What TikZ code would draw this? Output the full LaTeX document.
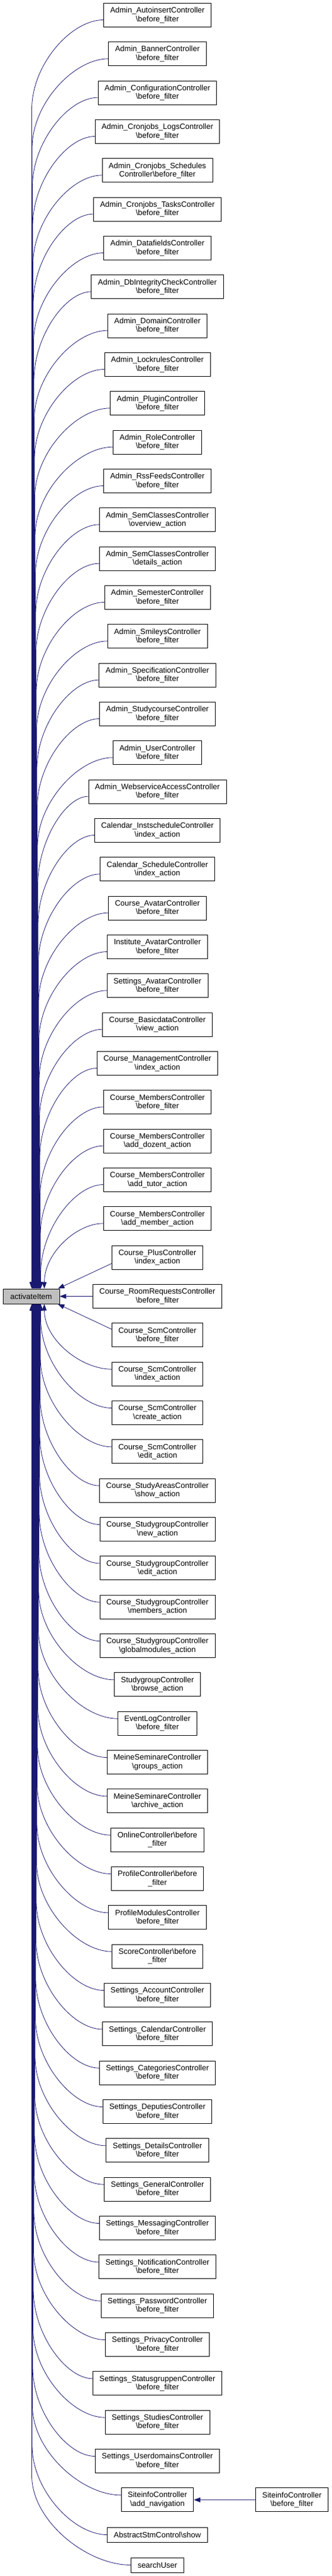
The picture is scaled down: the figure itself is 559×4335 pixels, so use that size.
\documentclass[tikz,border=0pt]{standalone}
\usepackage{fontspec}
\newfontfamily\lsans{Liberation Sans}
\usetikzlibrary{arrows.meta,calc}
\definecolor{mblue}{RGB}{25,25,112}
\definecolor{actgrey}{RGB}{191,191,191}
\newcommand\bsl{\textbackslash}
\newcommand\nf{\lsans\fontsize{13}{14.5}\selectfont}
\begin{document}
\begin{tikzpicture}[x=1pt,y=-1pt,
  fn/.style={draw=black,fill=white,line width=0.9pt,align=center,font=\nf,inner xsep=11pt,inner ysep=0pt,minimum height=40pt},
  fnone/.style={fn,minimum height=25pt},
  edge/.style={draw=mblue,line width=0.8pt,-{Triangle[length=11pt,width=8pt]}}]
\useasboundingbox (0,0) rectangle (559,4335);
\fill[white] (0,0) rectangle (559,4335);
\node[fnone,fill=actgrey,minimum width=95pt,inner xsep=0pt] (act) at (52.5,2181.5) {activateItem};
\foreach \t [count=\k] in {
 {Admin\_AutoinsertController\\\bsl before\_filter},
 {Admin\_BannerController\\\bsl before\_filter},
 {Admin\_ConfigurationController\\\bsl before\_filter},
 {Admin\_Cronjobs\_LogsController\\\bsl before\_filter},
 {Admin\_Cronjobs\_Schedules\\Controller\bsl before\_filter},
 {Admin\_Cronjobs\_TasksController\\\bsl before\_filter},
 {Admin\_DatafieldsController\\\bsl before\_filter},
 {Admin\_DbIntegrityCheckController\\\bsl before\_filter},
 {Admin\_DomainController\\\bsl before\_filter},
 {Admin\_LockrulesController\\\bsl before\_filter},
 {Admin\_PluginController\\\bsl before\_filter},
 {Admin\_RoleController\\\bsl before\_filter},
 {Admin\_RssFeedsController\\\bsl before\_filter},
 {Admin\_SemClassesController\\\bsl overview\_action},
 {Admin\_SemClassesController\\\bsl details\_action},
 {Admin\_SemesterController\\\bsl before\_filter},
 {Admin\_SmileysController\\\bsl before\_filter},
 {Admin\_SpecificationController\\\bsl before\_filter},
 {Admin\_StudycourseController\\\bsl before\_filter},
 {Admin\_UserController\\\bsl before\_filter},
 {Admin\_WebserviceAccessController\\\bsl before\_filter},
 {Calendar\_InstscheduleController\\\bsl index\_action},
 {Calendar\_ScheduleController\\\bsl index\_action},
 {Course\_AvatarController\\\bsl before\_filter},
 {Institute\_AvatarController\\\bsl before\_filter},
 {Settings\_AvatarController\\\bsl before\_filter},
 {Course\_BasicdataController\\\bsl view\_action},
 {Course\_ManagementController\\\bsl index\_action},
 {Course\_MembersController\\\bsl before\_filter},
 {Course\_MembersController\\\bsl add\_dozent\_action},
 {Course\_MembersController\\\bsl add\_tutor\_action},
 {Course\_MembersController\\\bsl add\_member\_action},
 {Course\_PlusController\\\bsl index\_action},
 {Course\_RoomRequestsController\\\bsl before\_filter},
 {Course\_ScmController\\\bsl before\_filter},
 {Course\_ScmController\\\bsl index\_action},
 {Course\_ScmController\\\bsl create\_action},
 {Course\_ScmController\\\bsl edit\_action},
 {Course\_StudyAreasController\\\bsl show\_action},
 {Course\_StudygroupController\\\bsl new\_action},
 {Course\_StudygroupController\\\bsl edit\_action},
 {Course\_StudygroupController\\\bsl members\_action},
 {Course\_StudygroupController\\\bsl globalmodules\_action},
 {StudygroupController\\\bsl browse\_action},
 {EventLogController\\\bsl before\_filter},
 {MeineSeminareController\\\bsl groups\_action},
 {MeineSeminareController\\\bsl archive\_action},
 {OnlineController\bsl before\\\_filter},
 {ProfileController\bsl before\\\_filter},
 {ProfileModulesController\\\bsl before\_filter},
 {ScoreController\bsl before\\\_filter},
 {Settings\_AccountController\\\bsl before\_filter},
 {Settings\_CalendarController\\\bsl before\_filter},
 {Settings\_CategoriesController\\\bsl before\_filter},
 {Settings\_DeputiesController\\\bsl before\_filter},
 {Settings\_DetailsController\\\bsl before\_filter},
 {Settings\_GeneralController\\\bsl before\_filter},
 {Settings\_MessagingController\\\bsl before\_filter},
 {Settings\_NotificationController\\\bsl before\_filter},
 {Settings\_PasswordController\\\bsl before\_filter},
 {Settings\_PrivacyController\\\bsl before\_filter},
 {Settings\_StatusgruppenController\\\bsl before\_filter},
 {Settings\_StudiesController\\\bsl before\_filter},
 {Settings\_UserdomainsController\\\bsl before\_filter},
 {SiteinfoController\\\bsl add\_navigation}}{
  \pgfmathsetmacro\yk{25.5+(\k-1)*65.3333}
  \node[fn] (n\k) at (265,\yk) {\t};
}
\node[fnone] (n66) at (265,4265.5) {AbstractStmControl\bsl show};
\node[fnone] (n67) at (265,4316.5) {searchUser};
\node[fn] (n65b) at (491.5,4206.8) {SiteinfoController\\\bsl before\_filter};
% edges from callers above
\foreach \k in {1,...,32}{
  \pgfmathsetmacro\yk{25.5+(\k-1)*65.3333}
  \pgfmathsetmacro\xe{\k==32 ? 75 : 54+(\k-1)*0.5}
  \pgfmathsetmacro\hh{min(150,0.9*(2169-\yk-8))}
  \coordinate (s) at ($(n\k.west)+(0,8)$);
  \coordinate (e) at ($(act.north west)+(\xe-5,0)$);
  \draw[edge] (s) .. controls ($(s)!0.45!(e|-s)$) and ($(e|-s)+(0,0.5*\hh)$) .. ($(e|-s)+(0,\hh)$) -- (e);
}
\draw[edge] ($(n33.west)+(0,10)$) -- ($(act.north east)+(-3,0)$);
\draw[edge] (n34.west) -- (act.east);
\draw[edge] ($(n35.west)+(0,-10)$) -- ($(act.south east)+(-3,0)$);
% edges from callers below
\foreach \k in {36,...,67}{
  \pgfmathsetmacro\yk{\k==66 ? 4265.5 : (\k==67 ? 4316.5 : 25.5+(\k-1)*65.3333)}
  \pgfmathsetmacro\xe{\k==36 ? 75 : 69-(\k-37)*0.5}
  \pgfmathsetmacro\off{\k>65 ? 0 : -8}
  \pgfmathsetmacro\hh{min(150,0.9*(\yk+\off-2194))}
  \coordinate (s) at ($(n\k.west)+(0,\off)$);
  \coordinate (e) at ($(act.south west)+(\xe-5,0)$);
  \draw[edge] (s) .. controls ($(s)!0.45!(e|-s)$) and ($(e|-s)+(0,-0.5*\hh)$) .. ($(e|-s)+(0,-\hh)$) -- (e);
}
\draw[edge] (n65b.west) -- (n65.east);
\end{tikzpicture}
\end{document}
